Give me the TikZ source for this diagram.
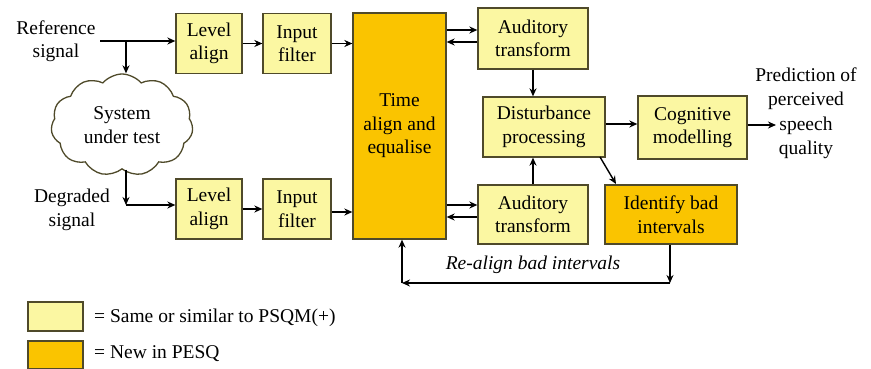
\documentclass[tikz,border=0pt]{standalone}
\usepackage{fontspec}
\setmainfont{Liberation Serif}
\usetikzlibrary{shapes.symbols,arrows.meta}
\definecolor{lightY}{HTML}{FBF7A2}
\definecolor{orangeY}{HTML}{FAC400}
\definecolor{edgeC}{HTML}{4F4A2A}
\begin{document}
\begin{tikzpicture}[x=1pt,y=-1pt,
  every node/.style={font=\fontsize{19.5}{23.5}\selectfont, align=center, inner sep=0pt},
  lbox/.style={draw=edgeC, line width=1.3pt, fill=lightY},
  obox/.style={draw=edgeC, line width=1.3pt, fill=orangeY},
  conn/.style={line width=1.4pt, -{Stealth[length=8pt,width=7pt]}}]
\useasboundingbox (0,0) rectangle (871,369);
% boxes
\node[lbox, minimum width=66pt, minimum height=60pt] (la1) at (209,43.5) {Level\\align};
\node[lbox, minimum width=68pt, minimum height=60pt] (if1) at (297,43.5) {Input\\filter};
\node[lbox, minimum width=66pt, minimum height=60pt] (la2) at (209,209) {Level\\align};
\node[lbox, minimum width=68pt, minimum height=60pt] (if2) at (297,209) {Input\\filter};
\node[obox, minimum width=93pt, minimum height=226pt] (ta) at (399.5,126) {};
\node at (399.5,126) {Time\\align and\\equalise};
\node[lbox, minimum width=110pt, minimum height=61pt] (at1) at (533,38.5) {Auditory\\transform};
\node[lbox, minimum width=110pt, minimum height=59pt] (at2) at (533,214.5) {Auditory\\transform};
\node[lbox, minimum width=122pt, minimum height=60pt] (dp) at (544,127) {Disturbance\\processing};
\node[lbox, minimum width=109pt, minimum height=63pt] (cm) at (692.5,127.5) {Cognitive\\modelling};
\node[obox, minimum width=132pt, minimum height=59pt] (ib) at (671,214.5) {Identify bad\\intervals};
\node[cloud, cloud puffs=11, cloud puff arc=100, aspect=1.45, draw=edgeC, line width=1.3pt, fill=white, minimum width=142pt, minimum height=102pt] (sut) at (122,125) {System\\under test};
% texts
\node (ref) at (56,41) {Reference\\signal};
\node (deg) at (72,210) {Degraded\\signal};
\node[font=\fontsize{19.5}{24.5}\selectfont] (pred) at (806,113) {Prediction of\\perceived\\speech\\quality};
% helper coordinates
\coordinate (rs) at (100,41);
\coordinate (rb) at (126,41);
\coordinate (db) at (126,205);
\coordinate (pe) at (776,125);
\coordinate (rd) at (670,283);
\coordinate (rl) at (402,283);
\coordinate (ib2) at (0,212);
\coordinate (dpc) at (600,157);
\coordinate (ibt) at (616,184);
% connectors
\draw[conn] (rs) -- (la1.west |- rs);
\draw[conn] (rb) -- (sut.north -| rb);
\draw[conn] (la1) -- (if1);
\draw[conn] (if1.east) -- (ta.west |- if1.east);
\draw[conn] (sut.south -| db) -- (db);
\draw[conn] (db) -- (la2.west |- db);
\draw[conn] (la2) -- (if2);
\draw[conn] (if2.east |- ib2) -- (ta.west |- ib2);
\draw[conn] (ta.east |- 0,30) -- (at1.west |- 0,30);
\draw[conn] (at1.west |- 0,42) -- (ta.east |- 0,42);
\draw[conn] (ta.east |- 0,205) -- (at2.west |- 0,205);
\draw[conn] (at2.west |- 0,217) -- (ta.east |- 0,217);
\draw[conn] (at1.south) -- (at1.south |- dp.north);
\draw[conn] (at2.north) -- (at2.north |- dp.south);
\draw[conn] (dp.east |- 0,124) -- (cm.west |- 0,124);
\draw[conn] (cm.east |- pe) -- (pe);
\draw[conn] (dpc) -- (ibt);
\draw[conn] (ib.south -| rd) -- (rd);
\draw[conn] (rd) -- (rl);
\draw[conn] (rl) -- (ta.south -| rl);
\node[font=\fontsize{19.5}{23.5}\selectfont\itshape] (lbl) at (533,265) {Re-align bad intervals};
% legend
\node[lbox, minimum width=55pt, minimum height=29pt] (lg1) at (55.5,316.5) {};
\node[obox, minimum width=55pt, minimum height=28pt] (lg2) at (55.5,355) {};
\node[anchor=west] (lt1) at (94,318) {= Same or similar to PSQM(+)};
\node[anchor=west] (lt2) at (94,354) {= New in PESQ};
\end{tikzpicture}
\end{document}
